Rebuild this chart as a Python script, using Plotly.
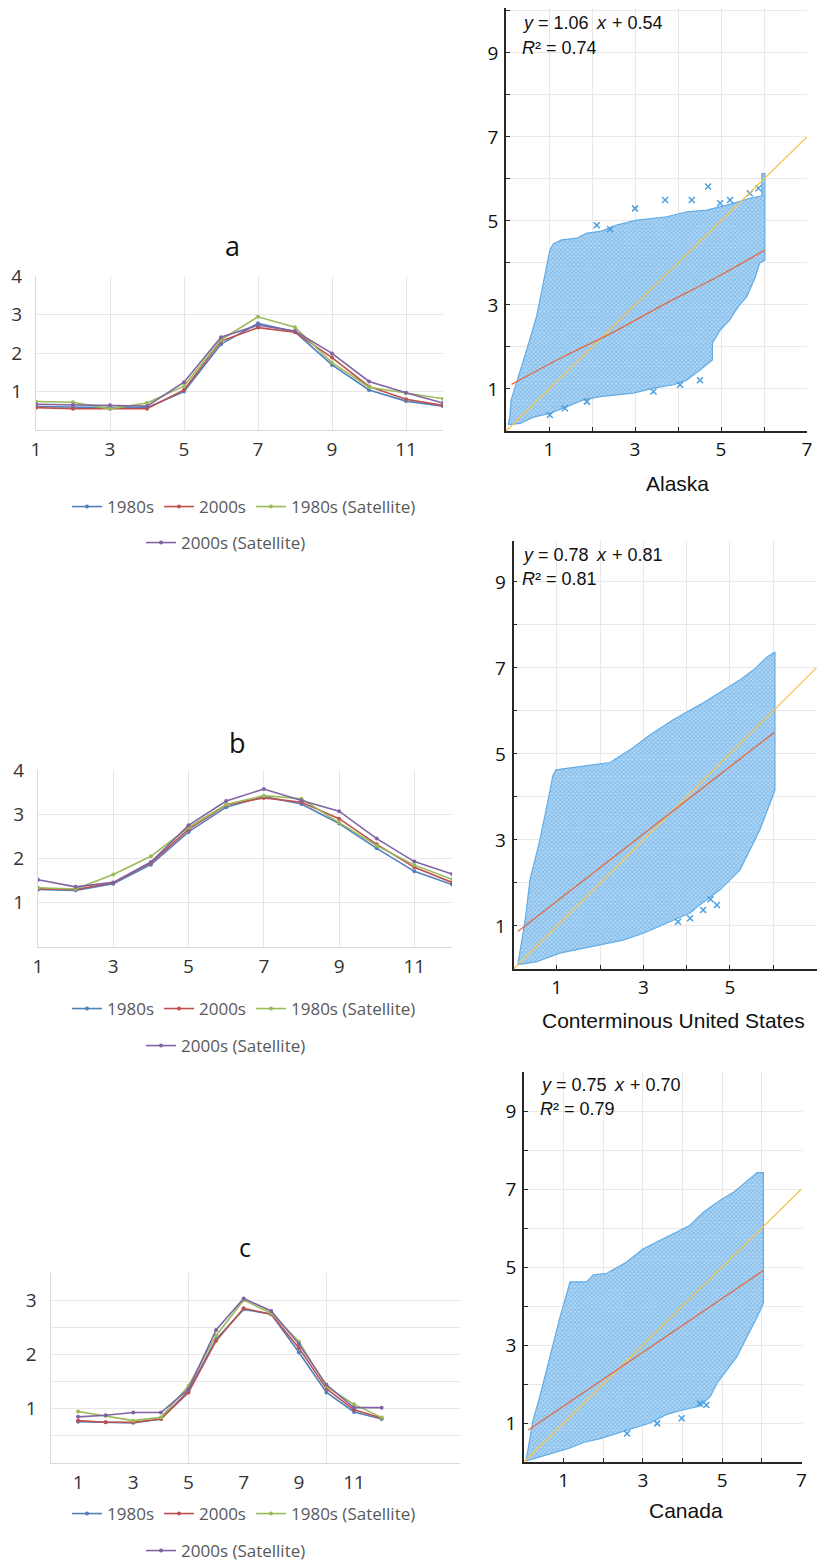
import plotly.graph_objects as go

W, H = 817, 1564

months = list(range(1, 13))
series_names = ["1980s", "2000s", "1980s (Satellite)", "2000s (Satellite)"]
series_colors = ["#4f81bd", "#c0504d", "#9bbb59", "#8064a2"]

a_1980s = [0.61, 0.59, 0.58, 0.58, 1.00, 2.23, 2.77, 2.55, 1.69, 1.04, 0.75, 0.62]
a_2000s = [0.58, 0.55, 0.55, 0.55, 1.04, 2.31, 2.66, 2.54, 1.88, 1.13, 0.80, 0.64]
a_1980s_sat = [0.74, 0.72, 0.55, 0.70, 1.14, 2.34, 2.94, 2.67, 1.75, 1.11, 0.96, 0.81]
a_2000s_sat = [0.67, 0.65, 0.64, 0.62, 1.24, 2.41, 2.72, 2.57, 1.99, 1.26, 0.97, 0.70]

b_1980s = [1.30, 1.28, 1.43, 1.86, 2.60, 3.16, 3.40, 3.23, 2.79, 2.23, 1.71, 1.41]
b_2000s = [1.32, 1.30, 1.45, 1.90, 2.66, 3.21, 3.37, 3.27, 2.90, 2.32, 1.80, 1.46]
b_1980s_sat = [1.34, 1.31, 1.64, 2.05, 2.70, 3.22, 3.42, 3.35, 2.81, 2.29, 1.85, 1.53]
b_2000s_sat = [1.52, 1.36, 1.46, 1.92, 2.75, 3.30, 3.57, 3.31, 3.07, 2.45, 1.93, 1.65]

c_1980s = [0.76, 0.75, 0.74, 0.81, 1.33, 2.28, 2.83, 2.74, 2.04, 1.30, 0.94, 0.81]
c_2000s = [0.78, 0.75, 0.75, 0.81, 1.30, 2.25, 2.85, 2.74, 2.12, 1.37, 0.98, 0.83]
c_1980s_sat = [0.95, 0.87, 0.78, 0.84, 1.42, 2.35, 3.00, 2.76, 2.24, 1.41, 1.08, 0.84]
c_2000s_sat = [0.85, 0.88, 0.93, 0.93, 1.36, 2.45, 3.03, 2.80, 2.19, 1.44, 1.02, 1.02]

line_ticks_x = [1, 3, 5, 7, 9, 11]
ab_ticks_y = [1, 2, 3, 4]
c_ticks_y = [1, 2, 3]
c_minor_y = [0.5, 1.5, 2.5, 3.5]
c_vgrid = [5, 10]

# scatter clouds (outline of the point cloud)
ak_cloud_x = [0.05, 0.09, 0.12, 0.25, 0.36, 0.48, 0.60, 0.71, 0.79, 0.87, 0.95, 1.02, 1.10, 1.29, 1.64, 1.88,
              2.19, 2.57, 3.04, 3.35, 3.74, 4.20, 4.67, 5.29, 5.67, 5.95, 5.95, 6.02, 6.02, 5.90, 5.80, 5.60,
              5.40, 5.20, 4.98, 4.80, 4.80, 4.51, 4.20, 3.90, 3.43, 2.96, 2.19, 1.80, 1.41, 1.02, 0.64, 0.33, 0.05]
ak_cloud_y = [0.15, 0.35, 0.74, 1.14, 1.53, 1.93, 2.33, 2.72, 3.12, 3.52, 3.91, 4.31, 4.45, 4.55, 4.59, 4.71,
              4.75, 4.90, 5.02, 5.06, 5.10, 5.22, 5.26, 5.42, 5.54, 5.60, 6.13, 6.13, 4.07, 4.00, 3.67, 3.20,
              2.96, 2.64, 2.40, 2.09, 1.69, 1.45, 1.21, 1.10, 1.02, 0.90, 0.82, 0.74, 0.58, 0.42, 0.33, 0.18, 0.15]
ak_out_x = [2.11, 2.42, 3.00, 3.70, 4.32, 4.70, 4.98, 5.21, 5.67, 5.87, 4.51, 4.05, 3.43, 1.37, 1.02, 1.88]
ak_out_y = [4.90, 4.81, 5.30, 5.50, 5.50, 5.82, 5.42, 5.50, 5.66, 5.78, 1.21, 1.10, 0.94, 0.54, 0.38, 0.70]
ak_fit_x = [0.13, 1.30, 2.51, 3.74, 4.90, 6.02]
ak_fit_y = [1.11, 1.75, 2.36, 3.05, 3.66, 4.31]

us_cloud_x = [0.10, 0.15, 0.27, 0.38, 0.61, 0.80, 0.91, 0.98, 1.50, 2.23, 2.70, 3.15, 3.70, 4.30, 4.80, 5.23,
              5.60, 5.85, 6.04, 6.04, 5.69, 5.23, 4.77, 4.30, 4.08, 3.54, 3.00, 2.53, 1.77, 1.07, 0.54, 0.10]
us_cloud_y = [0.10, 0.44, 1.14, 2.07, 3.00, 3.93, 4.50, 4.63, 4.70, 4.80, 5.10, 5.44, 5.80, 6.14, 6.45, 6.72,
              7.00, 7.25, 7.37, 4.16, 3.23, 2.30, 1.84, 1.49, 1.30, 1.07, 0.83, 0.67, 0.52, 0.37, 0.17, 0.10]
us_out_x = [3.80, 4.08, 4.38, 4.70, 4.55]
us_out_y = [1.10, 1.18, 1.37, 1.49, 1.62]
us_fit_x = [0.10, 6.02]
us_fit_y = [0.87, 5.50]

ca_cloud_x = [0.05, 0.10, 0.23, 0.40, 0.57, 0.74, 0.91, 1.08, 1.16, 1.58, 1.75, 2.09, 2.59, 3.01, 3.43, 3.77,
              4.19, 4.53, 4.95, 5.29, 5.67, 5.88, 6.04, 6.04, 5.88, 5.62, 5.37, 5.12, 4.87, 4.70, 4.44, 4.02,
              3.60, 3.18, 2.76, 2.34, 1.92, 1.50, 1.16, 0.40, 0.05]
ca_cloud_y = [0.03, 0.31, 1.08, 1.68, 2.36, 3.04, 3.72, 4.32, 4.62, 4.62, 4.80, 4.84, 5.13, 5.47, 5.69, 5.86,
              6.07, 6.41, 6.71, 6.92, 7.23, 7.42, 7.42, 4.07, 3.72, 3.21, 2.70, 2.36, 2.02, 1.68, 1.43, 1.34,
              1.22, 1.00, 0.87, 0.74, 0.60, 0.50, 0.36, 0.13, 0.03]
ca_out_x = [3.98, 4.44, 4.60, 3.36, 2.60]
ca_out_y = [1.12, 1.50, 1.46, 0.99, 0.73]
ca_fit_x = [0.11, 6.04]
ca_fit_y = [0.82, 4.91]

one_to_one = [0, 7]
scatter_ticks_x = [1, 3, 5, 7]
scatter_ticks_y = [1, 3, 5, 7, 9]
scatter_minor_x = [0, 1, 2, 3, 4, 5, 6, 7]
scatter_minor_y = [0, 1, 2, 3, 4, 5, 6, 7, 8, 9, 10]

slopes = ["1.06", "0.78", "0.75"]
intercepts = ["0.54", "0.81", "0.70"]
r2_values = ["0.74", "0.81", "0.79"]
region_titles = ["Alaska", "Conterminous United States", "Canada"]
panel_titles = ["a", "b", "c"]

# Arial / Liberation Sans advance widths (em) for text layout of equations
ARIAL_W = {"y": 0.5, "x": 0.5, "R": 0.722, " ": 0.278, "=": 0.584, "+": 0.584, ".": 0.278, "²": 0.333}


def text_w(s, size):
    return sum(ARIAL_W.get(ch, 0.556) for ch in s) * size


def dx(l, r):
    return [l / W, r / W]


def dy(top, bottom):
    return [1 - bottom / H, 1 - top / H]


def px(v):
    return v / W


def py(v):
    return 1 - v / H


fig = go.Figure()

line_sets = [
    (a_1980s, a_2000s, a_1980s_sat, a_2000s_sat),
    (b_1980s, b_2000s, b_1980s_sat, b_2000s_sat),
    (c_1980s, c_2000s, c_1980s_sat, c_2000s_sat),
]
for i, sets in enumerate(line_sets):
    ax = "" if i == 0 else str(i + 1)
    for j, vals in enumerate(sets):
        leg_idx = 2 * i + (1 if j < 3 else 2)
        leg = "legend" if leg_idx == 1 else "legend%d" % leg_idx
        fig.add_trace(go.Scatter(
            x=months, y=vals, mode="lines+markers", name=series_names[j],
            line=dict(color=series_colors[j], width=1.6),
            marker=dict(color=series_colors[j], size=4),
            xaxis="x" + ax, yaxis="y" + ax, legend=leg, showlegend=True,
        ))

cloud_color = "#4a9fe0"
scat = [
    (ak_cloud_x, ak_cloud_y, ak_out_x, ak_out_y, ak_fit_x, ak_fit_y),
    (us_cloud_x, us_cloud_y, us_out_x, us_out_y, us_fit_x, us_fit_y),
    (ca_cloud_x, ca_cloud_y, ca_out_x, ca_out_y, ca_fit_x, ca_fit_y),
]
for k, (cx, cy, ox, oy, fx, fy) in enumerate(scat):
    ax = str(k + 4)
    fig.add_trace(go.Scatter(
        x=cx, y=cy, mode="lines", fill="toself",
        line=dict(color="#62ace6", width=1.2),
        fillcolor="#86bfee",
        fillpattern=dict(shape="x", fgcolor="#4a9ce0", bgcolor="#b5d9f5", size=3, solidity=0.5),
        xaxis="x" + ax, yaxis="y" + ax, showlegend=False, hoverinfo="skip",
    ))
    fig.add_trace(go.Scatter(
        x=ox, y=oy, mode="markers",
        marker=dict(symbol="x-thin", size=6, line=dict(color=cloud_color, width=1.5)),
        xaxis="x" + ax, yaxis="y" + ax, showlegend=False,
    ))
    fig.add_trace(go.Scatter(
        x=one_to_one, y=one_to_one, mode="lines",
        line=dict(color="#f5c24f", width=1.3),
        xaxis="x" + ax, yaxis="y" + ax, showlegend=False,
    ))
    fig.add_trace(go.Scatter(
        x=fx, y=fy, mode="lines", line_shape="spline",
        line=dict(color="#e4693f", width=1.3),
        xaxis="x" + ax, yaxis="y" + ax, showlegend=False,
    ))

tick_font = dict(family="Open Sans", size=19, color="#333333")
grid_c = "#e6e6e6"
axis_c = "#d9d9d9"

layout = dict(
    width=W, height=H, margin=dict(l=0, r=0, t=0, b=0, pad=0, autoexpand=False),
    paper_bgcolor="white", plot_bgcolor="white", showlegend=True,
)

# line charts
lc_geom = [
    (dx(36, 443), dy(276, 430), [1, 12], [0, 4]),
    (dx(38, 452), dy(770, 947), [1, 12], [0, 4]),
    (dx(50.5, 460), dy(1273, 1463), [0, 14.84], [0, 3.5]),
]
for i, (xd, yd, xr, yr) in enumerate(lc_geom):
    ax = "" if i == 0 else str(i + 1)
    layout["xaxis" + ax] = dict(
        domain=xd, range=xr, anchor="y" + ax, tickmode="array", tickvals=line_ticks_x,
        showgrid=(i < 2), gridcolor=grid_c, gridwidth=1, zeroline=False, automargin=False,
        showline=True, linecolor=axis_c, linewidth=1, ticks="", tickfont=tick_font,
        ticklabelstandoff=2,
    )
    yax = dict(
        domain=yd, range=yr, anchor="x" + ax, tickmode="array",
        tickvals=ab_ticks_y if i < 2 else c_ticks_y,
        showgrid=True, gridcolor=grid_c, gridwidth=1, zeroline=False, automargin=False,
        showline=True, linecolor=axis_c, linewidth=1, ticks="", tickfont=tick_font,
        ticklabelstandoff=9,
    )
    if i == 2:
        yax["minor"] = dict(tickmode="array", tickvals=c_minor_y, showgrid=True,
                            gridcolor=grid_c, gridwidth=1, ticks="")
    layout["yaxis" + ax] = yax

# scatter panels
sc_geom = [
    (dx(506, 807), dy(8, 431), [0, 10.07]),
    (dx(513.5, 816.5), dy(541, 969), [0, 9.95]),
    (dx(524, 801.5), dy(1072, 1462), [0, 10]),
]
sc_tick_font = dict(family="Open Sans", size=19, color="#111111")
for k, (xd, yd, yr) in enumerate(sc_geom):
    ax = str(k + 4)
    common = dict(
        showgrid=True, gridcolor="#e8e8e8", gridwidth=1, zeroline=False, automargin=False,
        showline=True, linecolor="#262626", linewidth=1.6, ticks="inside", ticklen=4,
        tickcolor="#262626", tickwidth=1.3, tickfont=sc_tick_font,
    )
    layout["xaxis" + ax] = dict(
        domain=xd, range=[0, 7], anchor="y" + ax, tickmode="array", tickvals=scatter_ticks_x,
        ticklabelstandoff=0,
        minor=dict(tickmode="array", tickvals=scatter_minor_x, ticks="inside", ticklen=4,
                   tickcolor="#262626", tickwidth=1.3, showgrid=True, gridcolor="#e8e8e8"),
        **common,
    )
    layout["yaxis" + ax] = dict(
        domain=yd, range=yr, anchor="x" + ax, tickmode="array", tickvals=scatter_ticks_y,
        ticklabelstandoff=2,
        minor=dict(tickmode="array", tickvals=scatter_minor_y, ticks="inside", ticklen=4,
                   tickcolor="#262626", tickwidth=1.3, showgrid=True, gridcolor="#e8e8e8"),
        **common,
    )

# legends
leg_rows = [(507, 543), (1009, 1046), (1514, 1551)]
leg_font = dict(family="Open Sans", size=17, color="#595959")
for i, (r1, r2) in enumerate(leg_rows):
    for r, (yy, xx) in enumerate([(r1, 244), (r2, 226)]):
        idx = 2 * i + r + 1
        name = "legend" if idx == 1 else "legend%d" % idx
        layout[name] = dict(
            orientation="h", x=px(xx), y=py(yy), xanchor="center", yanchor="middle",
            font=leg_font, bgcolor="rgba(0,0,0,0)", itemwidth=30, tracegroupgap=0,
            itemclick=False, itemdoubleclick=False,
        )

fig.update_layout(**layout)

# vertical gridlines of chart c
for v in c_vgrid:
    fig.add_shape(type="line", xref="x3", yref="y3 domain", x0=v, x1=v, y0=0, y1=1,
                  line=dict(color=grid_c, width=1), layer="below")

# panel titles a/b/c
for (t, xx, yy, sz) in zip(panel_titles, [232, 237, 245], [245, 742, 1247], [27, 27, 25]):
    fig.add_annotation(text=t, x=px(xx), y=py(yy), xref="paper", yref="paper",
                       showarrow=False, xanchor="center", yanchor="middle",
                       font=dict(family="Open Sans", size=sz, color="#111111"))


def put_pieces(pieces, x0, yy, size, gap=2.0):
    """Lay out plain-text pieces (text, italic) left to right."""
    xcur = x0
    for n, (txt, ital) in enumerate(pieces):
        core = txt.strip()
        lead = len(txt) - len(txt.lstrip())
        xcur += lead * ARIAL_W[" "] * size + (gap if n > 0 else 0)
        fig.add_annotation(text=core, x=px(xcur), y=py(yy), xref="paper", yref="paper",
                           showarrow=False, xanchor="left", yanchor="middle",
                           borderpad=0, borderwidth=0,
                           font=dict(family="Liberation Sans", size=size, color="#111111",
                                     style="italic" if ital else "normal"))
        xcur += text_w(core, size)
        trail = len(txt) - len(txt.rstrip())
        xcur += trail * ARIAL_W[" "] * size


# equations (y and x, R in italics)
eq_pos = [(522, 23, 48), (522, 555, 579), (540, 1085, 1109)]
for s, b, r2, (xx, y1, y2) in zip(slopes, intercepts, r2_values, eq_pos):
    put_pieces([("y", True), (" = " + s + " ", False), ("x", True), (" + " + b, False)], xx, y1, 18)
    put_pieces([("R", True), ("² = " + r2, False)], xx, y2, 18, gap=0.5)

# region titles
for t, xx, yy in zip(region_titles, [677, 673, 686], [483, 1020, 1510]):
    fig.add_annotation(text=t, x=px(xx), y=py(yy), xref="paper", yref="paper",
                       showarrow=False, xanchor="center", yanchor="middle",
                       font=dict(family="Liberation Sans", size=21, color="#111111"))

fig.write_html("out.html")
